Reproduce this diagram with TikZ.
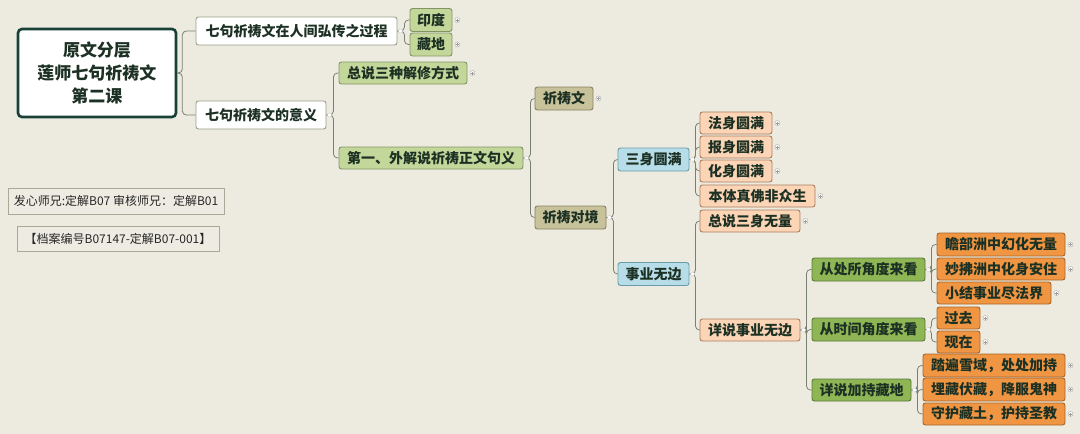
\documentclass[tikz,border=0pt]{standalone}
\usepackage{fontspec}
\setmainfont{Noto Sans CJK SC}
\begin{document}
\begin{tikzpicture}[x=1pt,y=-1pt,
  box/.style={draw, rounded corners=2.5pt, line width=0.9pt, inner sep=0pt, font=\bfseries\fontsize{14}{16}\selectfont, text=txt},
  wbox/.style={box, fill=white, draw=wbd},
  lgreen/.style={box, fill=lgf, draw=lgd},
  khaki/.style={box, fill=khf, draw=khd},
  lblue/.style={box, fill=lbf, draw=lbd},
  peach/.style={box, fill=pef, draw=ped},
  dgreen/.style={box, fill=dgf, draw=dgd},
  orng/.style={box, fill=orf, draw=ord},
  info/.style={draw=infd, fill=inff, line width=0.9pt, inner sep=0pt, font=\fontsize{12}{14}\selectfont, text=black!85},
  conn/.style={draw=cn, line width=0.8pt, rounded corners=4pt},
  plusm/.style={circle, draw=gray!70, fill=white, line width=0.4pt, inner sep=0pt, minimum size=5pt},
  minusm/.style={circle, draw=gray!50, fill=white, line width=0.3pt, inner sep=0pt, minimum size=4pt}
]
\definecolor{bg}{RGB}{237,235,224}
\definecolor{txt}{RGB}{28,48,36}
\definecolor{wbd}{RGB}{150,160,135}
\definecolor{lgf}{RGB}{196,215,155}
\definecolor{lgd}{RGB}{130,148,100}
\definecolor{khf}{RGB}{200,194,155}
\definecolor{khd}{RGB}{135,128,98}
\definecolor{lbf}{RGB}{183,222,232}
\definecolor{lbd}{RGB}{105,155,170}
\definecolor{pef}{RGB}{251,213,181}
\definecolor{ped}{RGB}{170,125,95}
\definecolor{dgf}{RGB}{142,182,85}
\definecolor{dgd}{RGB}{90,120,55}
\definecolor{orf}{RGB}{240,150,66}
\definecolor{ord}{RGB}{165,100,45}
\definecolor{infd}{RGB}{170,168,150}
\definecolor{inff}{RGB}{238,236,226}
\definecolor{cn}{RGB}{120,128,112}
\definecolor{rootd}{RGB}{25,65,55}

\fill[bg] (0,0) rectangle (1080,434);
\useasboundingbox (0,0) rectangle (1080,434);

% root
\node[draw=rootd, line width=2.6pt, fill=white, rounded corners=4pt, minimum width=158pt, minimum height=88pt, inner sep=0pt, align=center, font=\bfseries\fontsize{17}{23}\selectfont, text=txt] (root) at (97,73) {原文分层\\莲师七句祈祷文\\第二课};

\node[wbox, minimum width=201pt, minimum height=28pt] (A) at (296.5,31) {七句祈祷文在人间弘传之过程};
\node[wbox, minimum width=130pt, minimum height=28pt] (B) at (261,115) {七句祈祷文的意义};

\node[lgreen, minimum width=42pt, minimum height=23pt] (yd) at (431,20) {印度};
\node[lgreen, minimum width=42pt, minimum height=23pt] (zd) at (431,44.5) {藏地};

\node[lgreen, minimum width=128pt, minimum height=22pt] (zs) at (403,73) {总说三种解修方式};
\node[lgreen, minimum width=184pt, minimum height=22pt] (dy) at (431,158) {第一、外解说祈祷正文句义};

\node[khaki, minimum width=58pt, minimum height=23pt] (qdw) at (564,98.5) {祈祷文};
\node[khaki, minimum width=71pt, minimum height=23pt] (qddj) at (570.5,217.5) {祈祷对境};

\node[lblue, minimum width=71pt, minimum height=23pt] (ssym) at (653.5,159.5) {三身圆满};
\node[lblue, minimum width=71pt, minimum height=23pt] (sywb) at (653.5,274) {事业无边};

\node[peach, minimum width=72pt, minimum height=22pt] (fs) at (736,123) {法身圆满};
\node[peach, minimum width=72pt, minimum height=22pt] (bs) at (736,147) {报身圆满};
\node[peach, minimum width=72pt, minimum height=22pt] (hs) at (736,171) {化身圆满};
\node[peach, minimum width=115pt, minimum height=22pt] (bt) at (757.5,196) {本体真佛非众生};
\node[peach, minimum width=100pt, minimum height=22pt] (zssw) at (750,221) {总说三身无量};
\node[peach, minimum width=100pt, minimum height=22pt] (xssy) at (750,330) {详说事业无边};

\node[dgreen, minimum width=113pt, minimum height=23pt] (ccs) at (868.5,269.5) {从处所角度来看};
\node[dgreen, minimum width=113pt, minimum height=23pt] (csj) at (868.5,329.5) {从时间角度来看};
\node[dgreen, minimum width=99pt, minimum height=22pt] (xsjc) at (861.5,390) {详说加持藏地};

\node[orng, minimum width=128pt, minimum height=23pt] (o1) at (1001,244.5) {瞻部洲中幻化无量};
\node[orng, minimum width=128pt, minimum height=22pt] (o2) at (1001,269) {妙拂洲中化身安住};
\node[orng, minimum width=114pt, minimum height=22pt] (o3) at (994,293) {小结事业尽法界};
\node[orng, minimum width=43pt, minimum height=22pt] (o4) at (958.5,318) {过去};
\node[orng, minimum width=43pt, minimum height=22pt] (o5) at (958.5,342) {现在};
\node[orng, minimum width=142pt, minimum height=23pt] (o6) at (994,365.5) {踏遍雪域，处处加持};
\node[orng, minimum width=142pt, minimum height=23pt] (o7) at (994,389.5) {埋藏伏藏，降服鬼神};
\node[orng, minimum width=142pt, minimum height=22pt] (o8) at (994,414) {守护藏土，护持圣教};

\node[info, minimum width=216pt, minimum height=26pt] (i1) at (116,201) {发心师兄:定解B07 审核师兄：定解B01};
\node[info, minimum width=202pt, minimum height=25pt] (i2) at (118,238.5) {【档案编号B07147-定解B07-001】};

% connectors
\foreach \p/\c/\d in {root/A/5, root/B/5, A/yd/7, A/zd/7, B/zs/7, B/dy/7, dy/qdw/7, dy/qddj/7,
  qddj/ssym/7, qddj/sywb/7, ssym/fs/6, ssym/bs/6, ssym/hs/6, ssym/bt/6, sywb/zssw/6, sywb/xssy/6,
  xssy/ccs/6, xssy/csj/6, xssy/xsjc/6, ccs/o1/6, ccs/o2/6, ccs/o3/6, csj/o4/6, csj/o5/6,
  xsjc/o6/6, xsjc/o7/6, xsjc/o8/6}
  \draw[conn] (\p.east) -- ([xshift=\d pt]\p.east) |- (\c.west);

% collapse markers on parents
\foreach \p in {A, B, dy, qddj, ssym, sywb, xssy, ccs, csj, xsjc}
  \node[minusm] at ([xshift=3pt]\p.east) {};

% expand markers on leaves
\foreach \l in {yd, zd, zs, qdw, fs, bs, hs, bt, zssw, o1, o2, o3, o4, o5, o6, o7, o8} {
  \node[plusm] (m\l) at ([xshift=5pt]\l.east) {};
  \draw[gray!80, line width=0.3pt] ([xshift=-1.5pt]m\l.center) -- ([xshift=1.5pt]m\l.center)
    ([yshift=-1.5pt]m\l.center) -- ([yshift=1.5pt]m\l.center);
}
\end{tikzpicture}
\end{document}
